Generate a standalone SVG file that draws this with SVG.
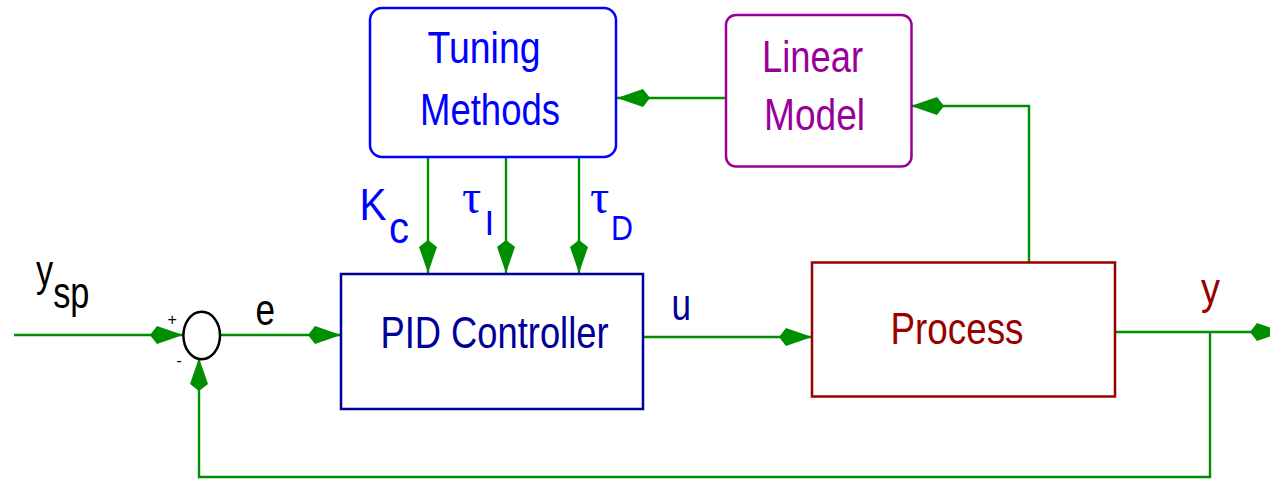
<svg xmlns="http://www.w3.org/2000/svg" width="1270" height="479" viewBox="0 0 1270 479">
<defs>
<style>
.lbl{font-family:"Liberation Sans",Arial,sans-serif;font-size:44px}
.sub{font-family:"Liberation Sans",Arial,sans-serif;font-size:35px}
.tau{font-family:"Liberation Serif","Times New Roman",serif;font-size:48px}
.sgn{font-family:"Liberation Sans",Arial,sans-serif;font-size:16px;fill:#000}
.box{fill:#fff;stroke-width:2.5}
.conn{fill:none;stroke:#008f00;stroke-width:2.4}
.blue{fill:#0000ff}
.navy{fill:#000099}
.red{fill:#990000}
.purple{fill:#990099}
</style>
<marker id="kite" markerUnits="userSpaceOnUse" viewBox="-34 -10 35 20" markerWidth="35" markerHeight="20" refX="0" refY="0" orient="auto">
<path d="M0,0 L-26,-9 L-33,0 L-26,9 Z" fill="#008f00"/>
</marker>
</defs>
<rect width="1270" height="479" fill="#fff"/>
<g id="connectors">
<path class="conn" d="M14,335 H183" marker-end="url(#kite)"/>
<path class="conn" d="M220,335 H341" marker-end="url(#kite)"/>
<path class="conn" d="M643,337 H812" marker-end="url(#kite)"/>
<path class="conn" d="M1115,332 H1283" marker-end="url(#kite)"/>
<path class="conn" d="M1210,332 V477 H199 V358" marker-end="url(#kite)"/>
<path class="conn" d="M1029,262 V106 H911" marker-end="url(#kite)"/>
<path class="conn" d="M726,98 H617" marker-end="url(#kite)"/>
<path class="conn" d="M428,157 V273" marker-end="url(#kite)"/>
<path class="conn" d="M506,157 V273" marker-end="url(#kite)"/>
<path class="conn" d="M579,157 V273" marker-end="url(#kite)"/>
</g>
<g id="sum">
<ellipse cx="201.7" cy="335.5" rx="18.3" ry="23.8" fill="none" stroke="#000" stroke-width="2.5"/>
<text class="sgn" x="167.5" y="325">+</text>
<text class="sgn" x="176.5" y="366">-</text>
</g>
<g id="tuning">
<rect class="box" x="370" y="8" width="246" height="149" rx="12" stroke="#0000ff"/>
<text class="lbl blue" x="427.5" y="63" textLength="113" lengthAdjust="spacingAndGlyphs">Tuning</text>
<text class="lbl blue" x="420" y="125" textLength="140" lengthAdjust="spacingAndGlyphs">Methods</text>
</g>
<g id="linear-model">
<rect class="box" x="726" y="15" width="185.5" height="151.5" rx="10" stroke="#990099"/>
<text class="lbl purple" x="762" y="72" textLength="101" lengthAdjust="spacingAndGlyphs">Linear</text>
<text class="lbl purple" x="764" y="130" textLength="101" lengthAdjust="spacingAndGlyphs">Model</text>
</g>
<g id="pid">
<rect class="box" x="341" y="274" width="302" height="135" stroke="#000099"/>
<text class="lbl navy" x="380.5" y="348" textLength="228" lengthAdjust="spacingAndGlyphs">PID Controller</text>
</g>
<g id="process">
<rect class="box" x="812" y="262.5" width="303" height="134" stroke="#990000"/>
<text class="lbl red" x="890.5" y="344" textLength="133" lengthAdjust="spacingAndGlyphs">Process</text>
</g>
<g id="labels">
<text class="lbl" transform="translate(36,286) scale(0.78,1)">y<tspan x="22" y="22">sp</tspan></text>
<text class="lbl" x="255.5" y="325" textLength="19.5" lengthAdjust="spacingAndGlyphs">e</text>
<text class="lbl navy" x="671.5" y="320" textLength="19.5" lengthAdjust="spacingAndGlyphs">u</text>
<text class="lbl red" x="1201" y="304" textLength="19" lengthAdjust="spacingAndGlyphs">y</text>
<text class="lbl blue" x="359.5" y="220" textLength="27" lengthAdjust="spacingAndGlyphs">K</text>
<text class="lbl blue" x="389" y="243" textLength="20" lengthAdjust="spacingAndGlyphs">c</text>
<text class="tau blue" x="462" y="213">τ</text>
<text class="sub blue" x="484.5" y="235">I</text>
<text class="tau blue" x="590" y="213">τ</text>
<text class="sub blue" x="611" y="240" textLength="22" lengthAdjust="spacingAndGlyphs">D</text>
</g>
</svg>
